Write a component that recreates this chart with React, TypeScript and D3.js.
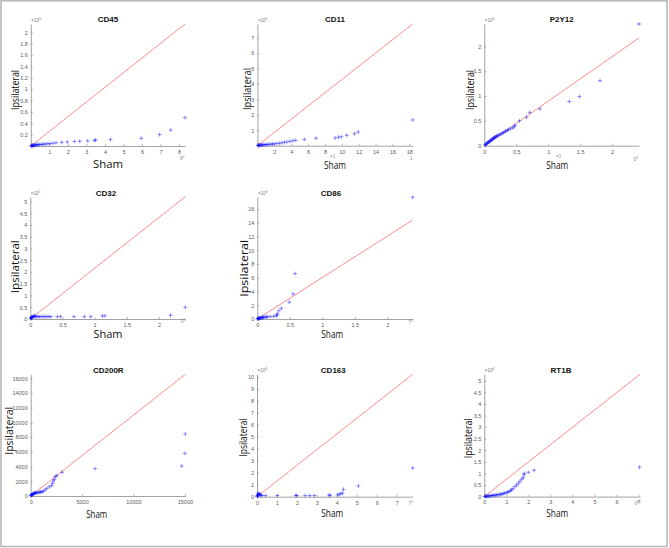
import React, { useEffect, useRef } from "react";
import * as d3 from "d3";

type Pt = [number, number];

// sham (x) vs ipsilateral (y) quantiles, in the axis units shown
const cd45: Pt[] = [
  [0.02, 0.002], [0.04, 0.004], [0.06, 0.006], [0.08, 0.008], [0.1, 0.01], [0.13, 0.012],
  [0.16, 0.014], [0.2, 0.016], [0.25, 0.018], [0.3, 0.02], [0.35, 0.022], [0.4, 0.024],
  [0.47, 0.026], [0.55, 0.028], [0.63, 0.03], [0.72, 0.033], [0.82, 0.036], [0.93, 0.04],
  [1.05, 0.043], [1.2, 0.048], [1.36, 0.055], [1.67, 0.065], [1.97, 0.07], [2.35, 0.08],
  [2.64, 0.085], [3.07, 0.09], [3.43, 0.1], [3.5, 0.105], [4.3, 0.115], [5.96, 0.135],
  [6.95, 0.2], [7.55, 0.28], [8.32, 0.5],
];
const cd11: Pt[] = [
  [0.05, 0.01], [0.1, 0.02], [0.15, 0.03], [0.2, 0.035], [0.3, 0.04], [0.4, 0.045], [0.5, 0.05],
  [0.6, 0.055], [0.75, 0.06], [0.9, 0.065], [1.05, 0.07], [1.2, 0.08], [1.4, 0.09], [1.6, 0.1],
  [1.8, 0.11], [2.0, 0.12], [2.3, 0.14], [2.6, 0.16], [2.9, 0.19], [3.2, 0.22], [3.5, 0.25],
  [3.86, 0.28], [4.2, 0.32], [4.54, 0.35], [5.56, 0.41], [6.94, 0.48], [9.2, 0.5], [9.6, 0.55],
  [9.95, 0.58], [10.58, 0.67], [11.5, 0.78], [11.95, 0.89], [18.4, 1.67],
];
const p2y12: Pt[] = [
  [0.01, 0.01], [0.02, 0.025], [0.03, 0.035], [0.04, 0.045], [0.05, 0.055], [0.06, 0.065],
  [0.07, 0.075], [0.08, 0.085], [0.09, 0.095], [0.1, 0.105], [0.11, 0.115], [0.12, 0.125],
  [0.13, 0.135], [0.14, 0.145], [0.15, 0.155], [0.16, 0.165], [0.17, 0.17], [0.18, 0.18],
  [0.19, 0.19], [0.2, 0.2], [0.22, 0.21], [0.24, 0.22], [0.26, 0.235], [0.28, 0.25],
  [0.3, 0.265], [0.32, 0.28], [0.34, 0.295], [0.36, 0.31], [0.38, 0.325], [0.41, 0.34],
  [0.44, 0.36], [0.47, 0.38], [0.48, 0.41], [0.55, 0.5], [0.66, 0.57], [0.71, 0.67],
  [0.87, 0.74], [1.33, 0.89], [1.49, 0.99], [1.81, 1.31], [2.42, 2.45],
];
const cd32: Pt[] = [
  [0.005, 0.01], [0.01, 0.03], [0.015, 0.05], [0.02, 0.07], [0.025, 0.08], [0.03, 0.09],
  [0.04, 0.1], [0.05, 0.11], [0.06, 0.12], [0.07, 0.13], [0.08, 0.1], [0.1, 0.1], [0.12, 0.1],
  [0.14, 0.1], [0.17, 0.1], [0.2, 0.1], [0.23, 0.1], [0.26, 0.1], [0.29, 0.1], [0.32, 0.1],
  [0.42, 0.1], [0.47, 0.1], [0.68, 0.1], [0.84, 0.1], [0.94, 0.1], [1.12, 0.13], [1.16, 0.14],
  [2.18, 0.16], [2.41, 0.5],
];
const cd86: Pt[] = [
  [0.005, 0.02], [0.01, 0.04], [0.015, 0.06], [0.02, 0.08], [0.025, 0.1], [0.03, 0.12],
  [0.04, 0.14], [0.05, 0.16], [0.06, 0.18], [0.07, 0.2], [0.08, 0.22], [0.09, 0.24], [0.1, 0.26],
  [0.12, 0.28], [0.14, 0.3], [0.16, 0.32], [0.2, 0.35], [0.25, 0.38], [0.29, 0.45], [0.3, 0.55],
  [0.31, 0.75], [0.33, 1.2], [0.37, 1.55], [0.49, 2.44], [0.55, 3.65], [0.58, 6.6], [2.39, 17.7],
];
const cd200r: Pt[] = [
  [20, 30], [50, 80], [80, 130], [110, 180], [150, 220], [200, 260], [250, 300], [300, 330],
  [350, 360], [400, 390], [450, 410], [500, 430], [600, 450], [700, 470], [800, 490], [900, 520],
  [1000, 550], [1100, 590], [1230, 640], [1400, 820], [1560, 1040], [1810, 1270], [2040, 1400],
  [2110, 1720], [2200, 2040], [2300, 2270], [2400, 2630], [2530, 2770], [3050, 3220],
  [6260, 3720], [14690, 4080], [15010, 5800], [15040, 8430],
];
const cd163: Pt[] = [
  [0.01, 0.02], [0.02, 0.05], [0.03, 0.1], [0.04, 0.15], [0.05, 0.2], [0.07, 0.25], [0.1, 0.28],
  [0.13, 0.2], [0.16, 0.15], [0.2, 0.12], [0.25, 0.1], [0.43, 0.1], [1.02, 0.1], [1.94, 0.1],
  [1.99, 0.1], [2.41, 0.1], [2.64, 0.1], [2.87, 0.1], [3.61, 0.15], [3.66, 0.1], [4.04, 0.15],
  [4.11, 0.2], [4.2, 0.25], [4.28, 0.3], [4.33, 0.62], [5.08, 0.9], [7.8, 2.4],
];
const rt1b: Pt[] = [
  [0.02, 0.005], [0.05, 0.01], [0.08, 0.015], [0.12, 0.02], [0.16, 0.025], [0.2, 0.03],
  [0.25, 0.035], [0.3, 0.04], [0.35, 0.045], [0.4, 0.05], [0.45, 0.055], [0.5, 0.06],
  [0.56, 0.07], [0.62, 0.08], [0.68, 0.09], [0.74, 0.1], [0.8, 0.11], [0.86, 0.13], [0.92, 0.15],
  [1.0, 0.17], [1.06, 0.19], [1.12, 0.22], [1.18, 0.25], [1.24, 0.29], [1.3, 0.34], [1.39, 0.43],
  [1.47, 0.5], [1.55, 0.58], [1.62, 0.66], [1.7, 0.75], [1.76, 0.82], [1.8, 0.94], [1.82, 1.0],
  [2.0, 1.05], [2.26, 1.14], [7.05, 1.27],
];

const titles = ["CD45", "CD11", "P2Y12", "CD32", "CD86", "CD200R", "CD163", "RT1B"];
const series = [cd45, cd11, p2y12, cd32, cd86, cd200r, cd163, rt1b];
const xMaxes = [8.32, 18.4, 2.42, 2.41, 2.39, 15040, 7.8, 7.07];
const yMaxes = [2.146, 7.89, 2.45, 5.21, 17.7, 16550, 10.23, 5.28];
// y value of the qq reference line at the right edge
const lineEnds = [2.146, 7.89, 2.17, 5.21, 14.4, 16550, 10.23, 5.28];
const xTicks = [
  [1, 2, 3, 4, 5, 6, 7, 8],
  [2, 4, 6, 8, 10, 12, 14, 16, 18],
  [0, 0.5, 1, 1.5, 2],
  [0, 0.5, 1, 1.5, 2],
  [0, 0.5, 1, 1.5, 2],
  [0, 5000, 10000, 15000],
  [0, 1, 2, 3, 4, 5, 6, 7],
  [0, 1, 2, 3, 4, 5, 6, 7],
];
const yTicks = [
  [0.2, 0.4, 0.6, 0.8, 1, 1.2, 1.4, 1.6, 1.8, 2],
  [1, 2, 3, 4, 5, 6, 7],
  [0, 0.5, 1, 1.5, 2],
  [0, 0.5, 1, 1.5, 2, 2.5, 3, 3.5, 4, 4.5, 5],
  [0, 2, 4, 6, 8, 10, 12, 14, 16],
  [0, 2000, 4000, 6000, 8000, 10000, 12000, 14000, 16000],
  [0, 1, 2, 3, 4, 5, 6, 7, 8, 9, 10],
  [0, 0.5, 1, 1.5, 2, 2.5, 3, 3.5, 4, 4.5, 5],
];
// y-axis exponent (×10^n), 0 = none
const yExps = [5, 5, 4, 5, 4, 0, 4, 4];
// leftovers of the x exponent labels that show in the cropped panels: [base, exp, x, y]
const xExps: [string, string, number, number][][] = [
  [["0", "4", 180, 160]],
  [["1", "", 410, 159.5], ["×1", "", 330, 157.5]],
  [["0", "4", 633.5, 161], ["×1", "", 556, 157.5]],
  [["0", "5", 181, 323]],
  [["7", "5", 408.5, 324]],
  [],
  [["7", "4", 408.5, 505]],
  [["0", "4", 634.5, 505]],
];

// layout: axes boxes [left, right, top, bottom] and label spots
const boxes = [
  [30.8, 185, 24, 146],
  [257.4, 412.7, 24, 145.7],
  [484.3, 639, 24, 145.7],
  [30.3, 185.3, 196.7, 319],
  [257.3, 412.7, 197.3, 319],
  [30.7, 185.3, 374.3, 496],
  [257, 412.7, 374.3, 496.7],
  [484.3, 640, 374.3, 496.6],
];
const titlePos = [[108, 22], [335, 22], [561.7, 22], [106, 195.5], [331, 195.5], [108.3, 373], [333.3, 373], [561, 373]];
const yLabPos = [[14, 90, 40], [246, 89, 42], [469.3, 90, 40], [14, 266.7, 53], [243.3, 268.3, 57], [8, 430.8, 48], [242.3, 437.5, 38], [467.3, 438.3, 40]];
const xLabPos = [[108, 164, 30], [335, 165, 22], [557.3, 165, 22], [108, 334.3, 29], [332.3, 334.3, 22], [96.7, 513.7, 21], [332.3, 513.3, 22], [557.3, 513.3, 22]];

const fmt = (d: d3.NumberValue) => String(+(+d).toFixed(2));
const FONT = "Liberation Sans, Arial, sans-serif";

export default function App() {
  const ref = useRef<SVGSVGElement>(null);

  useEffect(() => {
    const svg = d3.select(ref.current);
    svg.selectAll("*").remove();

    svg
      .append("rect")
      .attr("x", 1)
      .attr("y", 0.8)
      .attr("width", 666)
      .attr("height", 545.7)
      .attr("fill", "#fff")
      .attr("stroke", "#b4b4b4")
      .attr("stroke-width", 1.5);

    series.forEach((data, i) => {
      const [l, r, t, b] = boxes[i];
      const x = d3.scaleLinear().domain([0, xMaxes[i]]).range([l, r]);
      const y = d3.scaleLinear().domain([0, yMaxes[i]]).range([b, t]);
      const g = svg.append("g");

      // axes, MATLAB style: inward ticks, grey
      const xa = g
        .append("g")
        .attr("transform", `translate(0,${b})`)
        .call(
          d3.axisBottom(x).tickValues(xTicks[i]).tickSizeInner(-2).tickSizeOuter(0).tickPadding(4).tickFormat(fmt)
        );
      const ya = g
        .append("g")
        .attr("transform", `translate(${l},0)`)
        .call(
          d3.axisLeft(y).tickValues(yTicks[i]).tickSizeInner(-2).tickSizeOuter(0).tickPadding(3).tickFormat(fmt)
        );
      [xa, ya].forEach((a) => {
        a.attr("font-size", 5.5).attr("font-family", FONT);
        a.select(".domain").attr("stroke", "#8a8a8a").attr("stroke-width", 0.8);
        a.selectAll(".tick line").attr("stroke", "#8a8a8a").attr("stroke-width", 0.6);
        a.selectAll(".tick text").attr("fill", "#5a5a5a");
      });

      // qq reference line
      g.append("line")
        .attr("x1", x(0))
        .attr("y1", y(0))
        .attr("x2", x(xMaxes[i]))
        .attr("y2", y(lineEnds[i]))
        .attr("stroke", "#ff0000")
        .attr("stroke-opacity", 0.5)
        .attr("stroke-width", 0.9);

      // quantile markers
      g.selectAll(".pt")
        .data(data)
        .join("path")
        .attr("class", "pt")
        .attr("d", (d) => {
          const px = x(d[0]);
          const py = y(d[1]);
          return `M${px - 2},${py}h4M${px},${py - 2}v4`;
        })
        .attr("stroke", "#0000ff")
        .attr("stroke-opacity", 0.5)
        .attr("stroke-width", 0.85)
        .attr("fill", "none");

      // title
      g.append("text")
        .attr("x", titlePos[i][0])
        .attr("y", titlePos[i][1])
        .attr("text-anchor", "middle")
        .attr("font-family", FONT)
        .attr("font-weight", 700)
        .attr("font-size", 8)
        .attr("fill", "#111")
        .text(titles[i]);

      if (yExps[i]) {
        const e = g
          .append("text")
          .attr("x", l + 0.5)
          .attr("y", t - 2)
          .attr("font-family", FONT)
          .attr("font-size", 4.5)
          .attr("fill", "#777");
        e.append("tspan").text("×10");
        e.append("tspan").attr("dy", -2).attr("font-size", 3.5).text(String(yExps[i]));
      }
      xExps[i].forEach(([s, sup, ex, ey]) => {
        const e = g
          .append("text")
          .attr("x", ex)
          .attr("y", ey)
          .attr("font-family", FONT)
          .attr("font-size", 4.5)
          .attr("fill", "#888");
        e.append("tspan").text(s);
        if (sup) e.append("tspan").attr("dy", -2).attr("font-size", 3.5).text(sup);
      });

      // axis labels
      const [yx, yy, yl] = yLabPos[i];
      g.append("text")
        .attr("transform", `translate(${yx},${yy}) rotate(-90)`)
        .attr("text-anchor", "middle")
        .attr("dominant-baseline", "central")
        .attr("font-family", "Open Sans, sans-serif")
        .attr("font-size", 11)
        .attr("textLength", yl)
        .attr("lengthAdjust", "spacingAndGlyphs")
        .attr("fill", "#111")
        .text("Ipsilateral");

      const [sx, sy, sl] = xLabPos[i];
      g.append("text")
        .attr("x", sx)
        .attr("y", sy)
        .attr("text-anchor", "middle")
        .attr("dominant-baseline", "central")
        .attr("font-family", "Open Sans, sans-serif")
        .attr("font-size", 10.5)
        .attr("textLength", sl)
        .attr("lengthAdjust", "spacingAndGlyphs")
        .attr("fill", "#111")
        .text("Sham");
    });
  }, []);

  return (
    <svg
      ref={ref}
      width={669}
      height={548}
      style={{ position: "absolute", left: 0, top: 0, background: "#fff" }}
    />
  );
}
